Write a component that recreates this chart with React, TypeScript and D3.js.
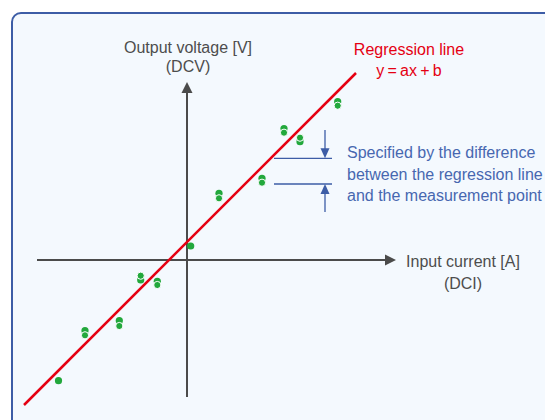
import React from "react";
import * as d3 from "d3";

// measurement points: x, and the two readings taken at that x
const pointX = [-12.85, -10.2, -6.77, -4.63, -2.97, 0.37, 3.2, 7.5, 9.7, 11.3, 15.07];
const readingA = [-12.07, -7.07, -6.07, -2.0, -2.13, 1.4, 6.67, 8.17, 13.15, 11.83, 15.83];
const readingB = [null, -7.53, -6.6, -1.57, -2.5, null, 6.17, 7.73, 12.73, 12.23, 15.43];

// regression line y = ax + b
const slope = 1.0;
const intercept = 1.8;
const lineExtent = [-16.3, 16.9];

// axis extents in data units
const xAxisExtent = [-15, 20.9];
const yAxisExtent = [-13.7, 17.8];

// residual bracket
const bracketLevels = [10.17, 7.6];
const bracketSpan = [8.7, 14.5];
const bracketX = 13.8;
const bracketRange = [13, 4.8];

const yLabel = ["Output voltage [V]", "(DCV)"];
const xLabel = ["Input current [A]", "(DCI)"];
const lineLabel = ["Regression line", "y\u2009=\u2009ax\u2009+\u2009b"];
const noteLines = [
  "Specified by the difference",
  "between the regression line",
  "and the measurement point",
];

const W = 545;
const H = 420;

export default function App() {
  const x = d3.scaleLinear().domain([-15, 21]).range([37, 397]);
  const y = d3.scaleLinear().domain([-14, 18]).range([400, 80]);

  const axisColor = "#4b4b4b";
  const green = "#22a83c";
  const red = "#e50012";
  const blue = "#3d5da6";
  const font = "'Liberation Sans', Arial, sans-serif";

  const line = d3
    .line<number>()
    .x((d) => x(d))
    .y((d) => y(slope * d + intercept));

  const x0 = x(0);
  const y0 = y(0);
  const xEnd = x(xAxisExtent[1]);
  const yTop = y(yAxisExtent[1]);

  const dots: { cx: number; back: number | null; front: number }[] = pointX.map((px, i) => {
    const a = readingA[i];
    const b = readingB[i];
    if (b == null) return { cx: x(px), back: null, front: y(a) };
    return { cx: x(px), back: y(a), front: y(b) };
  });

  const by = bracketLevels.map((v) => y(v));
  const bx = x(bracketX);

  return (
    <svg
      width={W}
      height={H}
      style={{ position: "absolute", left: 0, top: 0, background: "#fff" }}
      fontFamily={font}
    >
      <rect x={12} y={13} width={560} height={440} rx={9} fill="#f4f9fe" stroke={blue} strokeWidth={2} />

      {/* axes */}
      <line x1={x(xAxisExtent[0])} x2={xEnd - 8} y1={y0} y2={y0} stroke={axisColor} strokeWidth={2} />
      <path d={`M${xEnd},${y0} L${xEnd - 11},${y0 - 5.5} L${xEnd - 11},${y0 + 5.5} Z`} fill={axisColor} />
      <line x1={x0} x2={x0} y1={y(yAxisExtent[0])} y2={yTop + 8} stroke={axisColor} strokeWidth={2} />
      <path d={`M${x0},${yTop} L${x0 - 5.5},${yTop + 11} L${x0 + 5.5},${yTop + 11} Z`} fill={axisColor} />

      <g fill="#4d4d4d" fontSize={16} textAnchor="middle">
        <text x={188} y={53}>{yLabel[0]}</text>
        <text x={188} y={72}>{yLabel[1]}</text>
        <text x={463} y={267}>{xLabel[0]}</text>
        <text x={463} y={289}>{xLabel[1]}</text>
      </g>

      {/* regression line */}
      <path d={line(lineExtent) || ""} stroke={red} strokeWidth={2.5} fill="none" />
      <g fill={red} fontSize={16} textAnchor="middle">
        <text x={409} y={55}>{lineLabel[0]}</text>
        <text x={409} y={76}>{lineLabel[1]}</text>
      </g>

      {/* measurement points */}
      {dots.map((d, i) => (
        <g key={i}>
          {d.back != null && <circle cx={d.cx} cy={d.back} r={3.6} fill={green} />}
          <circle cx={d.cx} cy={d.front} r={3.6} fill={green} stroke={d.back != null ? "#fff" : "none"} strokeWidth={1} />
        </g>
      ))}

      {/* residual bracket */}
      <g stroke={blue} strokeWidth={1.3}>
        {by.map((v, i) => (
          <line key={i} x1={x(bracketSpan[0])} x2={x(bracketSpan[1])} y1={v} y2={v} />
        ))}
        <line x1={bx} x2={bx} y1={y(bracketRange[0])} y2={by[0] - 8} />
        <line x1={bx} x2={bx} y1={by[1] + 8} y2={y(bracketRange[1])} />
      </g>
      <path d={`M${bx},${by[0]} L${bx - 4.5},${by[0] - 10} L${bx + 4.5},${by[0] - 10} Z`} fill={blue} />
      <path d={`M${bx},${by[1]} L${bx - 4.5},${by[1] + 10} L${bx + 4.5},${by[1] + 10} Z`} fill={blue} />
      <g fill="#4767b0" fontSize={16}>
        {noteLines.map((t, i) => (
          <text key={i} x={347} y={158 + i * 21.5}>{t}</text>
        ))}
      </g>
    </svg>
  );
}
